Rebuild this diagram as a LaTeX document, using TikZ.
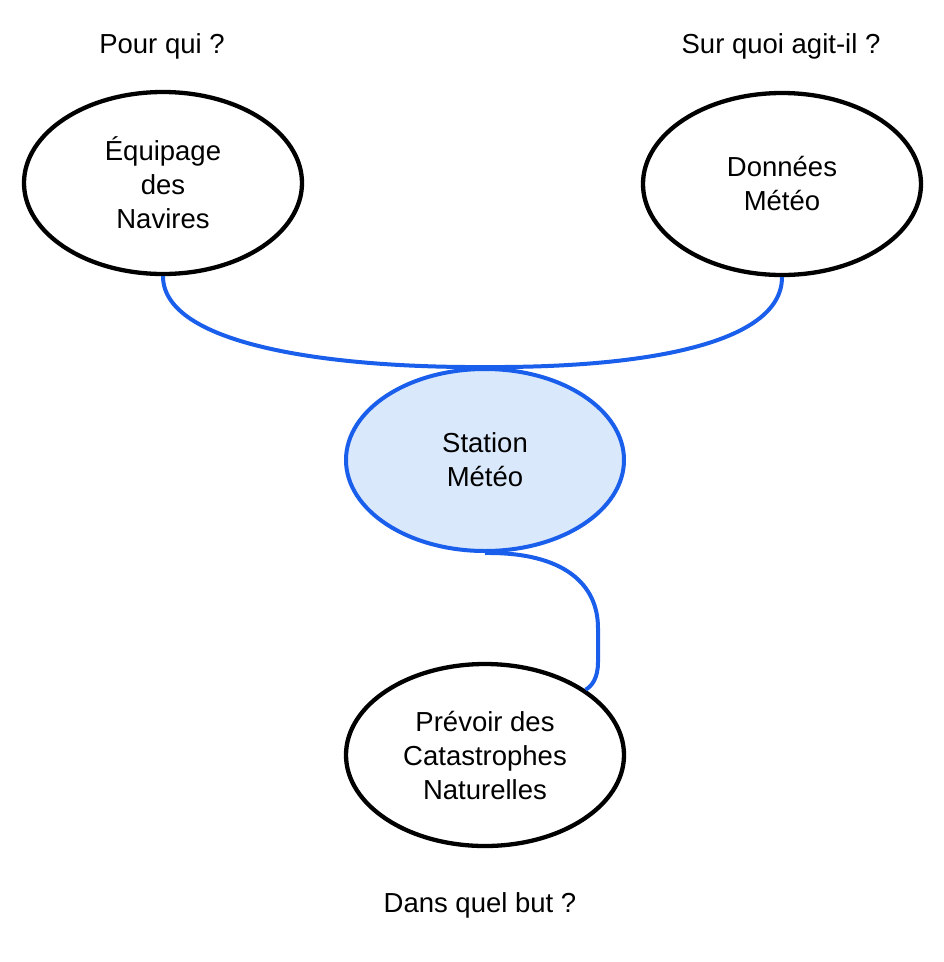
\documentclass[tikz,border=0pt]{standalone}
\usepackage{fontspec}
\setmainfont{Liberation Sans}
\usetikzlibrary{shapes.geometric}
\definecolor{conblue}{RGB}{26,94,236}
\definecolor{stfill}{RGB}{218,232,252}
\begin{document}
\begin{tikzpicture}[x=1pt,y=-1pt,
  bubble/.style={ellipse,draw=black,line width=4.3pt,minimum width=278pt,minimum height=182pt,inner sep=0pt,align=center,font=\fontsize{27.5}{34}\selectfont},
  core/.style={bubble,draw=conblue,line width=4pt,fill=stfill},
  conn/.style={draw=conblue,line width=4pt},
  question/.style={font=\fontsize{27.5}{34}\selectfont}]
\useasboundingbox[fill=white] (0,0) rectangle (944,962);
\node[bubble] (eq) at (163,183) {Équipage\\des\\Navires};
\node[bubble] (do) at (782,184) {Données\\Météo};
\node[core] (st) at (485,460) {Station\\Météo};
\node[bubble] (pr) at (485,755) {Prévoir des\\Catastrophes\\Naturelles};
\node[question] (q1) at (162,46) {Pour qui ?};
\node[question] (q2) at (781,46) {Sur quoi agit-il ?};
\node[question] (q3) at (480,905) {Dans quel but ?};
\draw[conn] (eq.south) .. controls (163,345) and (330,368) .. (st.north);
\draw[conn] (do.south) .. controls (782,345) and (640,368) .. (st.north);
\draw[conn] (st.south) .. controls (565,552) and (598,585) .. (598,628) -- (598,662) .. controls (598,678) and (592,686) .. (pr.33.6);
\end{tikzpicture}
\end{document}
